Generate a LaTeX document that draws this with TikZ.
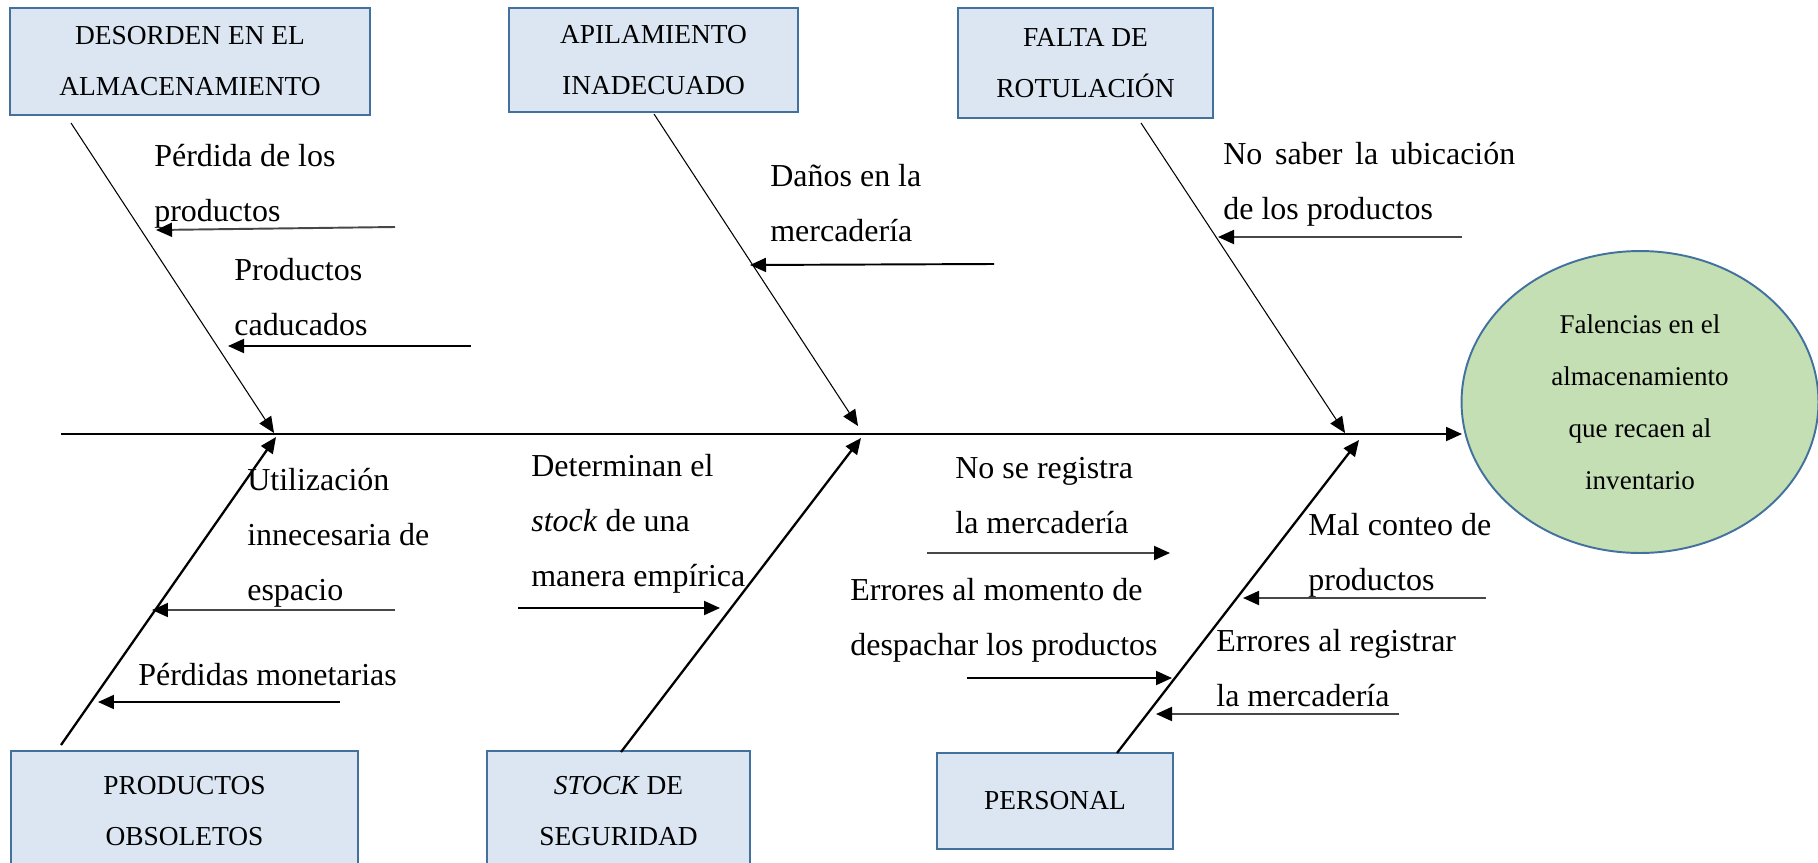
\documentclass[tikz,border=0pt]{standalone}
\usepackage{fontspec}
\setmainfont{Liberation Serif}
\usetikzlibrary{arrows.meta,shapes.geometric}
\definecolor{cajafondo}{HTML}{DCE6F2}
\definecolor{cajaborde}{HTML}{41719C}
\definecolor{efectofondo}{HTML}{C5DFB5}
\tikzset{
	categoria/.style={draw=cajaborde, line width=1.4pt, fill=cajafondo, align=center, inner sep=0pt,
		font=\fontsize{15.6}{29}\selectfont},
	efecto/.style={ellipse, draw=cajaborde, line width=1.1pt, fill=efectofondo, align=center, inner sep=0pt,
		minimum width=7.14cm, minimum height=6.04cm, font=\fontsize{15.4}{29.6}\selectfont},
	causa/.style={anchor=west, align=left, inner sep=0pt, font=\fontsize{18.2}{31.3}\selectfont},
	punta/.style={-{Triangle[length=0.32cm,width=0.28cm,color=black]}},
	flecha/.style={punta, line width=1.1pt},
	gris/.style={flecha, draw=black!72},
}
\begin{document}
\begin{tikzpicture}[x=0.02cm, y=-0.02cm]
			%%%%% START %%%%%
			\useasboundingbox (0,0) rectangle (1818,862);
			\clip (0,0) rectangle (1818,862);
			
			% categorias
			\node[categoria, minimum width=7.2cm, minimum height=2.14cm] (desorden) at (190,61.5) {\raisebox{-3pt}{DESORDEN EN EL}\\\raisebox{-3pt}{ALMACENAMIENTO}};
			\node[categoria, minimum width=5.78cm, minimum height=2.08cm] (apilamiento) at (653.5,60) {\raisebox{-3pt}{APILAMIENTO}\\\raisebox{-3pt}{INADECUADO}};
			\node[categoria, minimum width=5.1cm, minimum height=2.2cm] (rotulacion) at (1085.5,63) {FALTA DE\\ROTULACIÓN};
			\node[categoria, minimum width=6.94cm, minimum height=2.4cm] (obsoletos) at (184.5,811) {PRODUCTOS\\OBSOLETOS};
			\node[categoria, minimum width=5.26cm, minimum height=2.4cm] (seguridad) at (618.5,811) {\textit{STOCK} DE\\SEGURIDAD};
			\node[categoria, minimum width=4.72cm, minimum height=1.92cm] (personal) at (1055,801) {PERSONAL};
			
			\node[efecto] (falencias) at (1640,402) {Falencias en el\\almacenamiento\\que recaen al\\inventario};
			
			% espina central
			\coordinate (cola) at (61,434);
			\coordinate (cabeza) at (1462,434);
			\draw[punta, line width=1.1pt] (cola) -- (cabeza);
			
			% espinas de arriba
			\coordinate (d1) at (71,123);   \coordinate (d2) at (274,433);
			\coordinate (a1) at (654,114);  \coordinate (a2) at (858,426);
			\coordinate (r1) at (1141,123); \coordinate (r2) at (1345,433);
			\draw[punta, line width=0.6pt] (d1) -- (d2);
			\draw[punta, line width=0.6pt] (a1) -- (a2);
			\draw[punta, line width=0.6pt] (r1) -- (r2);
			
			% espinas de abajo
			\coordinate (o1) at (61,745);   \coordinate (o2) at (276,437);
			\coordinate (s1) at (621,752);  \coordinate (s2) at (861,438);
			\coordinate (p1) at (1117,753); \coordinate (p2) at (1359,440);
			\draw[punta, line width=1.3pt] (o1) -- (o2);
			\draw[punta, line width=1.3pt] (s1) -- (s2);
			\draw[punta, line width=1.3pt] (p1) -- (p2);
			
			% causas de arriba
			\node[causa] (perdida) at (154,186) {Pérdida de los\\productos};
			\draw[gris] (395,227) -- (156,230);
			\node[causa] (caducados) at (234,297) {Productos\\caducados};
			\draw[flecha] (471,346) -- (228,346);
			\node[causa] (danos) at (770,203) {Daños en la\\mercadería};
			\draw[flecha] (994,264) -- (750,265);
			\node[causa] (ubicacion) at (1223,184) {\makebox[5.84cm][s]{No saber la ubicación}\\de los productos};
			\draw[gris] (1462,237) -- (1218,237);
			
			% causas de abajo
			\node[causa] (espacio) at (247,538) {Utilización\\innecesaria de\\espacio};
			\draw[gris] (395,610) -- (152,610);
			\node[causa] (monetarias) at (138,675) {Pérdidas monetarias};
			\draw[flecha] (340,702) -- (98,702);
			\node[causa] (empirica) at (531,524) {Determinan el\\\textit{stock} de una\\manera empírica};
			\draw[flecha] (518,608) -- (720,608);
			\node[causa] (registra) at (955,496) {No se registra\\la mercadería};
			\draw[gris] (927,553) -- (1170,553);
			\node[causa] (despachar) at (850,620) {Errores al momento de\\despachar los productos};
			\draw[flecha] (967,678) -- (1172,678);
			\node[causa] (conteo) at (1308,555) {Mal conteo de\\productos};
			\draw[gris] (1486,598) -- (1243,598);
			\node[causa] (registrar) at (1216,668) {Errores al registrar\\la mercadería};
			\draw[gris] (1399,714) -- (1156,714);
			
			%%%%% END %%%%%
\end{tikzpicture}
\end{document}
